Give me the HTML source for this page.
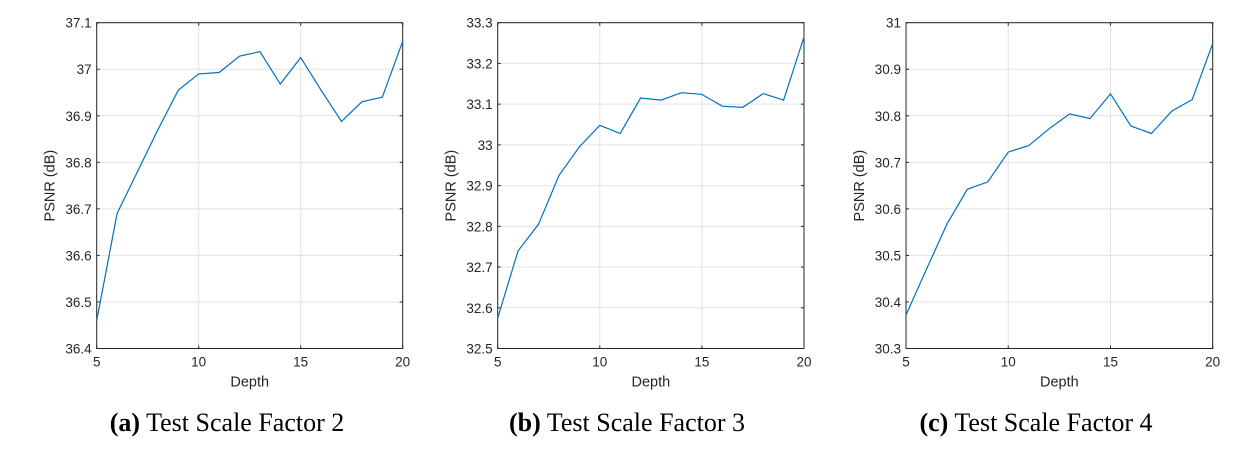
<!DOCTYPE html>
<html><head><meta charset="utf-8"><style>
body{margin:0;background:#fff;width:1252px;height:450px;overflow:hidden}
svg text{font-family:"Liberation Sans",sans-serif;fill:#262626}
.cap{font-family:"Liberation Serif",serif;font-size:26px;fill:#000}
</style></head><body>
<svg id="s" width="1252" height="450"></svg>
<script>
const depths=[5,6,7,8,9,10,11,12,13,14,15,16,17,18,19,20];
const psnrA=[36.46,36.69,36.78,36.87,36.955,36.99,36.993,37.028,37.038,36.968,37.025,36.955,36.888,36.93,36.94,37.06];
const psnrB=[32.575,32.74,32.805,32.925,32.995,33.048,33.028,33.115,33.11,33.128,33.124,33.095,33.092,33.126,33.11,33.265];
const psnrC=[30.372,30.47,30.567,30.642,30.658,30.722,30.736,30.772,30.804,30.794,30.847,30.778,30.762,30.81,30.835,30.955];
const xTicks=[5,10,15,20];
const yTicksA=[36.4,36.5,36.6,36.7,36.8,36.9,37,37.1];
const yTicksB=[32.5,32.6,32.7,32.8,32.9,33,33.1,33.2,33.3];
const yTicksC=[30.3,30.4,30.5,30.6,30.7,30.8,30.9,31];
const NS='http://www.w3.org/2000/svg';
const svg=document.getElementById('s');
function mk(t,a,p){const e=document.createElementNS(NS,t);for(const k in a)e.setAttribute(k,a[k]);(p||svg).appendChild(e);return e;}
function fmt(v){return String(+v.toFixed(2));}
function chart(id,L,R,vals,yt,capLetter,capText,capX){
  const T=22.7,B=348.5;
  const g=mk('g',{});
  
  
  const ymin=yt[0],ymax=yt[yt.length-1];
  const xs=v=>L+(v-5)/(20-5)*(R-L);
  const ys=v=>B-(v-ymin)/(ymax-ymin)*(B-T);
  yt.forEach(v=>{
    const y=ys(v);
    const l=mk('line',{x1:L,x2:R,y1:y,y2:y,stroke:'#e3e3e3','stroke-width':1},g);
    
    
    mk('line',{x1:L,x2:L+3,y1:y,y2:y,stroke:'#262626'},g);
    mk('line',{x1:R-3,x2:R,y1:y,y2:y,stroke:'#262626'},g);
    const t=mk('text',{x:L-5,y:y+5,'text-anchor':'end','font-size':13.5},g);
    t.textContent=fmt(v);
    
    
  });
  xTicks.forEach(v=>{
    const x=xs(v);
    const l=mk('line',{x1:x,x2:x,y1:T,y2:B,stroke:'#e3e3e3'},g);
    
    
    mk('line',{x1:x,x2:x,y1:B-3,y2:B,stroke:'#262626'},g);
    mk('line',{x1:x,x2:x,y1:T,y2:T+3,stroke:'#262626'},g);
    const t=mk('text',{x:x,y:B+18,'text-anchor':'middle','font-size':13.5},g);
    t.textContent=v;
    
    
  });
  const f=mk('rect',{x:L,y:T,width:R-L,height:B-T,fill:'none',stroke:'#262626','stroke-width':1},g);
  
  
  const pts=vals.map((v,i)=>xs(depths[i]).toFixed(1)+','+ys(v).toFixed(1)).join(' ');
  const pl=mk('polyline',{points:pts,fill:'none',stroke:'#0072BD','stroke-width':1.2},g);
  
  
  const xl=mk('text',{x:(L+R)/2,y:B+38,'text-anchor':'middle','font-size':14.5},g);
  xl.textContent='Depth';
  
  
  const yx=L-42,yy=(T+B)/2;
  const yl=mk('text',{x:yx,y:yy,'text-anchor':'middle','font-size':14.5,transform:`rotate(-90 ${yx} ${yy})`},g);
  yl.textContent='PSNR (dB)';
  
  
  const c=mk('text',{x:capX,y:431,'text-anchor':'middle',class:'cap'},g);
  c.innerHTML='<tspan font-weight="bold">('+capLetter+')</tspan> '+capText;
  
  
}
chart('a',96.7,402.7,psnrA,yTicksA,'a','Test Scale Factor 2',227);
chart('b',497.7,804,psnrB,yTicksB,'b','Test Scale Factor 3',627);
chart('c',906,1212.7,psnrC,yTicksC,'c','Test Scale Factor 4',1036);
</script>
</body></html>
